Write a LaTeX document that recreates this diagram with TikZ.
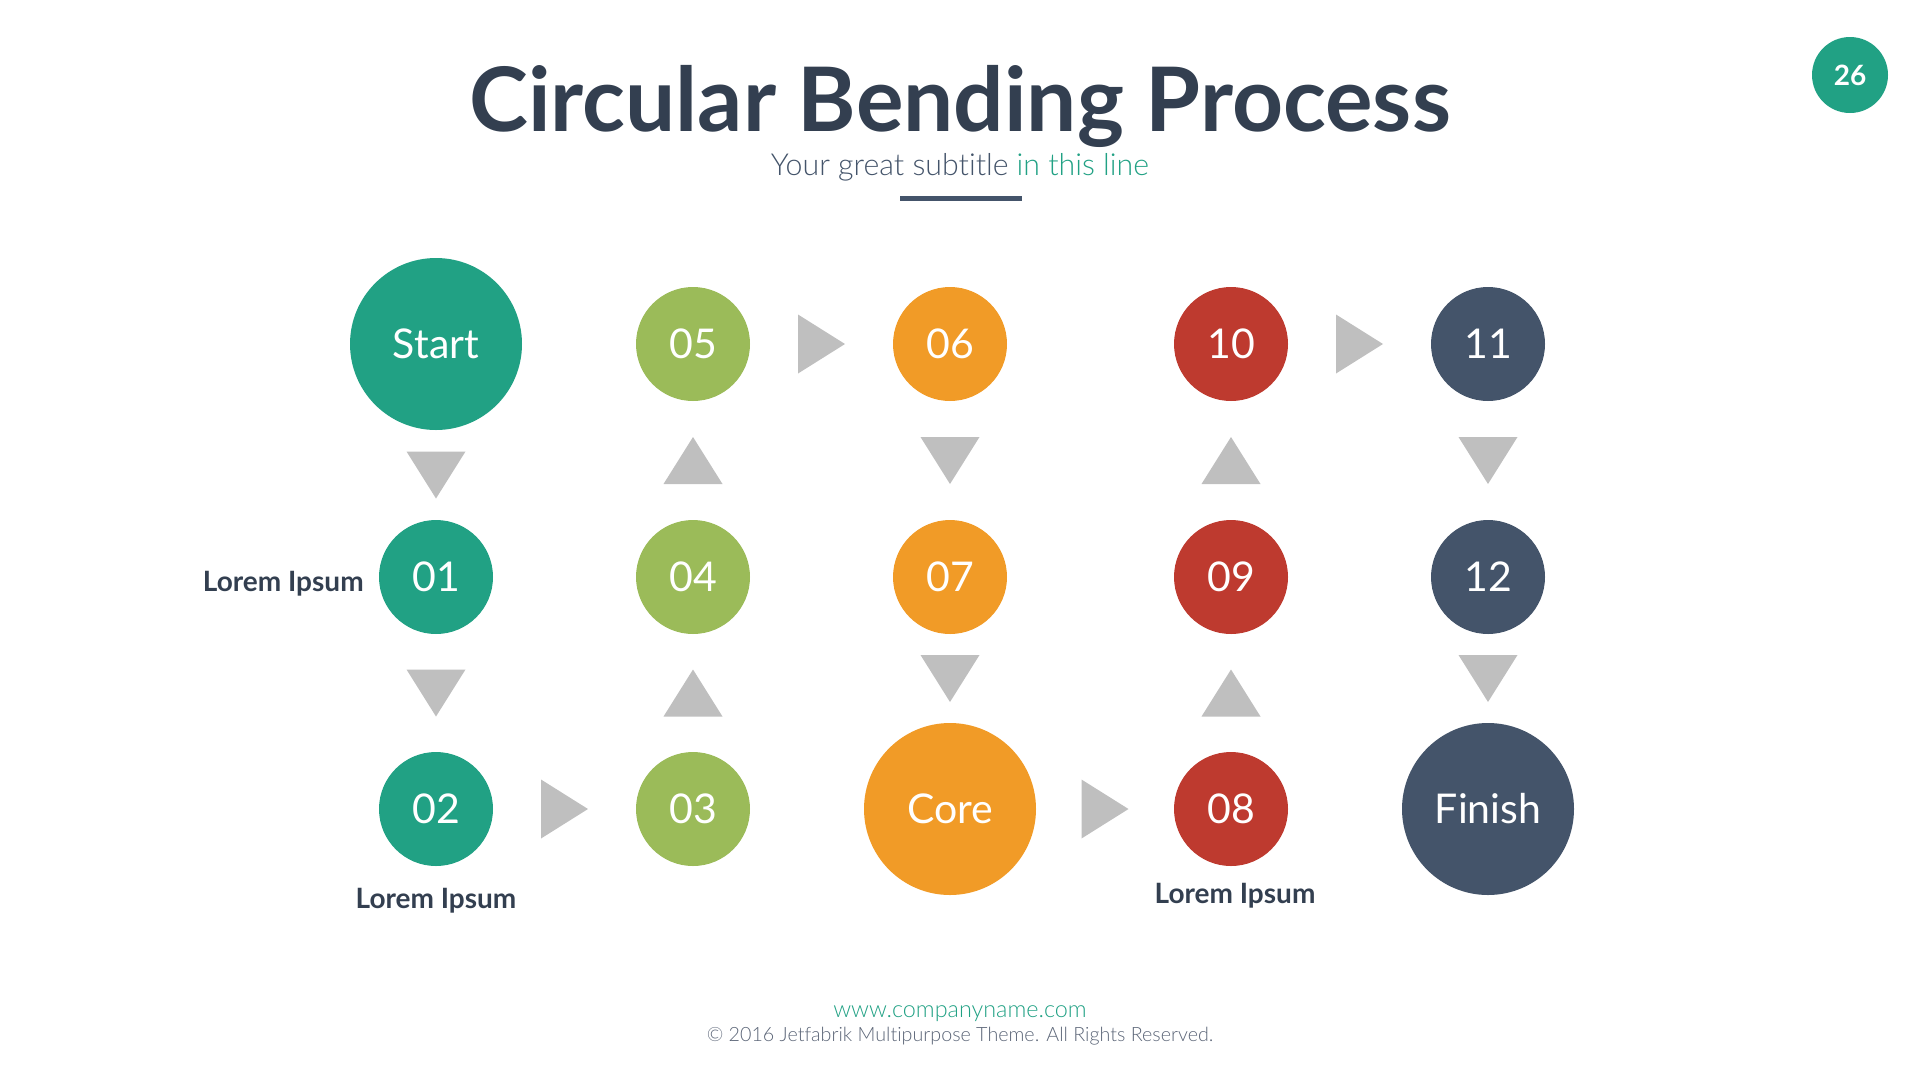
\documentclass[tikz,border=0pt]{standalone}
\usepackage{fontspec}
\setmainfont{Lato}[Ligatures=NoCommon]
\newfontfamily\latolight{Lato Light}[Ligatures=NoCommon]
\usetikzlibrary{calc}

\definecolor{cteal}{HTML}{21A184}
\definecolor{cgreen}{HTML}{9BBB59}
\definecolor{corange}{HTML}{F19B27}
\definecolor{cred}{HTML}{BE3A2F}
\definecolor{cnavy}{HTML}{44546A}
\definecolor{ctitle}{HTML}{333F50}
\definecolor{cgray}{HTML}{BFBFBF}
\definecolor{cfoot}{HTML}{5B6577}

\tikzset{
  tri/.pic={\fill[cgray] (23.5,0) -- (-23.5,-29.5) -- (-23.5,29.5) -- cycle;}
}

\begin{document}
\begin{tikzpicture}[x=1pt, y=-1pt,
    dot/.style={circle, fill=#1, text=white, minimum size=114pt, inner sep=0pt,
      font=\fontsize{41}{41}\selectfont},
    bigdot/.style={dot=#1, minimum size=172pt},
    lorem/.style={text=ctitle, inner sep=0pt, font=\bfseries\fontsize{28}{28}\selectfont}]
    \useasboundingbox (0,0) rectangle (1920,1080);

    % Header
    \node[anchor=base, text=ctitle, font=\bfseries\fontsize{89}{89}\selectfont] (title) at (960,131) {Circular Bending Process};
    \node[anchor=base, text=cnavy, font=\latolight\fontsize{30.3}{30.3}\selectfont] (subtitle) at (960,175)
        {Your great subtitle \textcolor{cteal}{in this line}};
    \fill[cnavy] (900,196) rectangle (1022,201);
    \node[circle, fill=cteal, minimum size=76pt, inner sep=0pt, text=white,
        font=\bfseries\fontsize{28}{28}\selectfont] (page) at (1850,75) {26};

    % Column 1
    \node[bigdot=cteal] (s) at (436,344) {Start};
    \node[dot=cteal] (n1) at (436,577) {01};
    \node[dot=cteal] (n2) at (436,809) {02};

    % Column 2
    \node[dot=cgreen] (n3) at (693,809) {03};
    \node[dot=cgreen] (n4) at (693,577) {04};
    \node[dot=cgreen] (n5) at (693,344) {05};

    % Column 3
    \node[dot=corange] (n6) at (950,344) {06};
    \node[dot=corange] (n7) at (950,577) {07};
    \node[bigdot=corange] (core) at (950,809) {Core};

    % Column 4
    \node[dot=cred] (n8) at (1231,809) {08};
    \node[dot=cred] (n9) at (1231,577) {09};
    \node[dot=cred] (n10) at (1231,344) {10};

    % Column 5
    \node[dot=cnavy] (n11) at (1488,344) {11};
    \node[dot=cnavy] (n12) at (1488,577) {12};
    \node[bigdot=cnavy] (f) at (1488,809) {Finish};

    % Arrows
    \pic[rotate=-90] at ($(s.south)!0.5!(n1.north)$) {tri};
    \pic[rotate=-90] at ($(n1.south)!0.5!(n2.north)$) {tri};
    \pic at ($(n2.east)!0.5!(n3.west)$) {tri};
    \pic[rotate=90] at ($(n3.north)!0.5!(n4.south)$) {tri};
    \pic[rotate=90] at ($(n4.north)!0.5!(n5.south)$) {tri};
    \pic at ($(n5.east)!0.5!(n6.west)$) {tri};
    \pic[rotate=-90] at ($(n6.south)!0.5!(n7.north)$) {tri};
    \pic[rotate=-90] at ($(n7.south)!0.5!(core.north)$) {tri};
    \pic at ($(core.east)!0.5!(n8.west)$) {tri};
    \pic[rotate=90] at ($(n8.north)!0.5!(n9.south)$) {tri};
    \pic[rotate=90] at ($(n9.north)!0.5!(n10.south)$) {tri};
    \pic at ($(n10.east)!0.5!(n11.west)$) {tri};
    \pic[rotate=-90] at ($(n11.south)!0.5!(n12.north)$) {tri};
    \pic[rotate=-90] at ($(n12.south)!0.5!(f.north)$) {tri};

    % Labels
    \node[lorem, anchor=east] (l1) at ($(n1.west)+(-15,7)$) {Lorem Ipsum};
    \node[lorem, anchor=north] (l2) at ($(n2.south)+(0,22)$) {Lorem Ipsum};
    \node[lorem, anchor=north] (l8) at ($(n8.south)+(4,17)$) {Lorem Ipsum};

    % Footer
    \node[anchor=base, text=cteal, font=\latolight\fontsize{23.4}{23.4}\selectfont] (web) at (960,1017) {www.companyname.com};
    \node[anchor=base, text=cfoot, font=\latolight\fontsize{19.7}{19.7}\selectfont] (copy) at (960,1041)
        {\textcopyright{} 2016 Jetfabrik Multipurpose Theme. All Rights Reserved.};
\end{tikzpicture}
\end{document}
